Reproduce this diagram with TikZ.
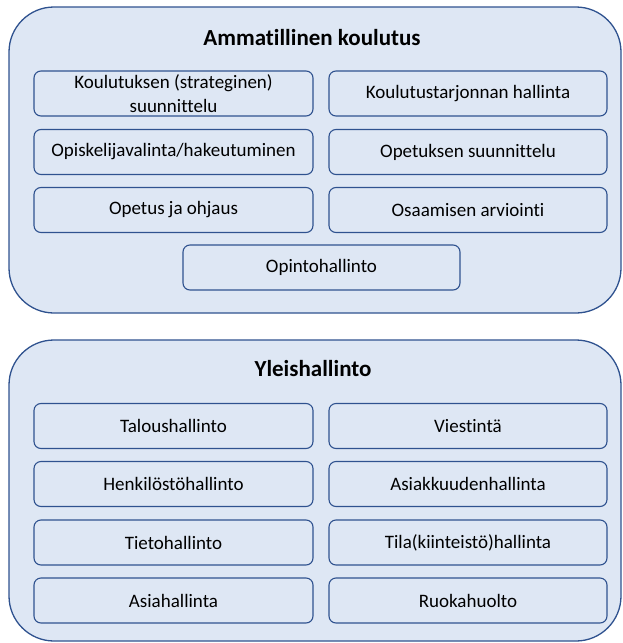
\documentclass[tikz,border=0pt]{standalone}
\usepackage{fontspec}
\setmainfont[Ligatures={NoCommon}]{Carlito}
\definecolor{boxfill}{HTML}{DEE7F4}
\definecolor{boxline}{HTML}{2F528F}
\begin{document}
\begin{tikzpicture}[x=1pt,y=-1pt,
  outerbox/.style={draw=boxline,fill=boxfill,line width=1.3pt,rounded corners=45pt,minimum width=612pt,inner sep=0pt},
  subbox/.style={draw=boxline,fill=boxfill,line width=1.1pt,rounded corners=7pt,minimum height=45pt,inner sep=0pt,align=center,font=\fontsize{19}{24}\selectfont},
  lbox/.style={subbox,minimum width=279pt},
  rbox/.style={subbox,minimum width=278pt},
  titletext/.style={font=\fontsize{23}{26}\selectfont\bfseries}]
\useasboundingbox (0,0) rectangle (622,643);
% Ammatillinen koulutus
\node[outerbox,minimum height=306pt] (amm) at (315,160) {};
\node[titletext] (ammt) at (312,38) {Ammatillinen koulutus};
\node[lbox] (a1) at (173.5,93.5) {Koulutuksen (strateginen)\\suunnittelu};
\node[rbox] (a2) at (468,93.5) {Koulutustarjonnan hallinta};
\node[lbox] (a3) at (173.5,152) {Opiskelijavalinta/hakeutuminen};
\node[rbox] (a4) at (468,152) {Opetuksen suunnittelu};
\node[lbox] (a5) at (173.5,210) {Opetus ja ohjaus};
\node[rbox] (a6) at (468,210) {Osaamisen arviointi};
\node[subbox,minimum width=277pt] (a7) at (321.5,267.5) {Opintohallinto};
% Yleishallinto
\node[outerbox,minimum height=301pt] (yle) at (315,490.5) {};
\node[titletext] (ylet) at (313,369) {Yleishallinto};
\node[lbox] (y1) at (173.5,426) {Taloushallinto};
\node[rbox] (y2) at (468,426) {Viestintä};
\node[lbox] (y3) at (173.5,484) {Henkilöstöhallinto};
\node[rbox] (y4) at (468,484) {Asiakkuudenhallinta};
\node[lbox] (y5) at (173.5,542.5) {Tietohallinto};
\node[rbox] (y6) at (468,542.5) {Tila(kiinteistö)hallinta};
\node[lbox] (y7) at (173.5,600.5) {Asiahallinta};
\node[rbox] (y8) at (468,600.5) {Ruokahuolto};
\end{tikzpicture}
\end{document}
